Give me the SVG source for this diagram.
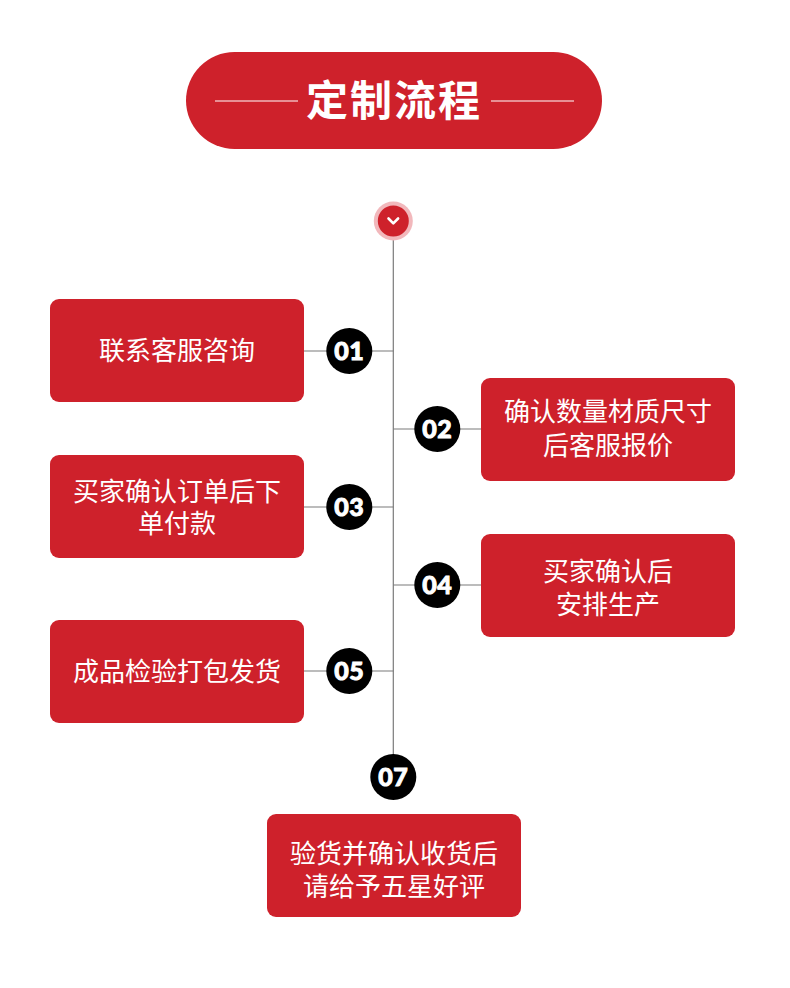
<svg xmlns="http://www.w3.org/2000/svg" width="790" height="988" viewBox="0 0 790 988">
<style>
.box{fill:#ce212b}
.t{fill:#ffffff;font-family:"Noto Sans CJK SC","Noto Sans",sans-serif;font-size:26px;text-anchor:middle}
.num{fill:#000000}
.nt{fill:#ffffff;stroke:#ffffff;stroke-width:0.9;font-family:Lato,"Open Sans","Liberation Sans",sans-serif;font-weight:900;font-size:25px;letter-spacing:0.5px;text-anchor:middle}
.ln{stroke:#7a7a7a;stroke-width:1.2;fill:none}
</style>
<rect width="790" height="988" fill="#ffffff"/>
<g id="header">
<rect x="186" y="52" width="416" height="97" rx="48.5" fill="#ce212b"/>
<line x1="215" y1="101" x2="298" y2="101" stroke="#ffffff" stroke-width="1.2"/>
<line x1="491" y1="101" x2="574" y2="101" stroke="#ffffff" stroke-width="1.2"/>
<text x="394" y="116" fill="#ffffff" font-family="'Noto Sans CJK SC',sans-serif" font-weight="700" font-size="42" letter-spacing="2" text-anchor="middle">定制流程</text>
</g>
<g id="connectors">
<line class="ln" x1="393.3" y1="238" x2="393.3" y2="755"/>
<line class="ln" x1="304" y1="351" x2="393.3" y2="351"/>
<line class="ln" x1="393.3" y1="429" x2="481" y2="429"/>
<line class="ln" x1="304" y1="507" x2="393.3" y2="507"/>
<line class="ln" x1="393.3" y1="585" x2="481" y2="585"/>
<line class="ln" x1="304" y1="671" x2="393.3" y2="671"/>
</g>
<g id="start">
<circle cx="393.3" cy="221" r="19.5" fill="#f2b8bc"/>
<circle cx="393.3" cy="221" r="15.5" fill="#ce212b"/>
<polyline points="388.5,218.5 393.3,223.3 398.1,218.5" fill="none" stroke="#ffffff" stroke-width="2.6" stroke-linecap="round" stroke-linejoin="round"/>
</g>
<g id="step1">
<rect class="box" x="50" y="299" width="254" height="103" rx="9"/>
<text class="t" x="177" y="360">联系客服咨询</text>
<circle class="num" cx="349.3" cy="351" r="23"/>
<text class="nt" x="349.3" y="360">01</text>
</g>
<g id="step2">
<rect class="box" x="481" y="378" width="254" height="103" rx="9"/>
<text class="t" x="608" y="421">确认数量材质尺寸</text>
<text class="t" x="608" y="455">后客服报价</text>
<circle class="num" cx="437.3" cy="429" r="23"/>
<text class="nt" x="437.3" y="438">02</text>
</g>
<g id="step3">
<rect class="box" x="50" y="455" width="254" height="103" rx="9"/>
<text class="t" x="177" y="501">买家确认订单后下</text>
<text class="t" x="177" y="533">单付款</text>
<circle class="num" cx="349.3" cy="507" r="23"/>
<text class="nt" x="349.3" y="516">03</text>
</g>
<g id="step4">
<rect class="box" x="481" y="534" width="254" height="103" rx="9"/>
<text class="t" x="608" y="581">买家确认后</text>
<text class="t" x="608" y="614">安排生产</text>
<circle class="num" cx="437.3" cy="585" r="23"/>
<text class="nt" x="437.3" y="594">04</text>
</g>
<g id="step5">
<rect class="box" x="50" y="620" width="254" height="103" rx="9"/>
<text class="t" x="177" y="681">成品检验打包发货</text>
<circle class="num" cx="349.3" cy="671" r="23"/>
<text class="nt" x="349.3" y="680">05</text>
</g>
<g id="step7">
<circle class="num" cx="393.3" cy="777" r="23"/>
<text class="nt" x="393.3" y="786">07</text>
<rect class="box" x="267" y="814" width="254" height="103" rx="9"/>
<text class="t" x="394" y="863">验货并确认收货后</text>
<text class="t" x="394" y="896">请给予五星好评</text>
</g>
</svg>
